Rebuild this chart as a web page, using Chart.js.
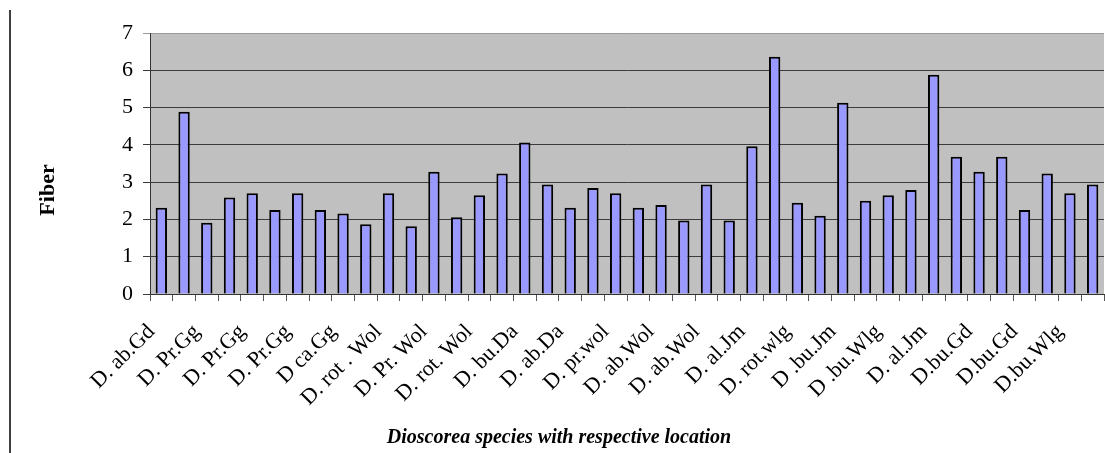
<!DOCTYPE html>
<html>
<head>
<meta charset="utf-8">
<script src="https://cdn.jsdelivr.net/npm/chart.js@4"></script>
<style>
  html, body { margin: 0; padding: 0; background: #fff; }
  #wrap { width: 1105px; height: 453px; position: relative; }
</style>
</head>
<body>
<div id="wrap"><canvas id="myChart"></canvas></div>
<script>
// species / location labels, one under every second bar
var tickLabels = [
  'D. ab.Gd', 'D. Pr.Gg', 'D. Pr.Gg', 'D. Pr.Gg', 'D ca.Gg', 'D. rot . Wol',
  'D. Pr. Wol', 'D. rot. Wol', 'D. bu.Da', 'D. ab.Da', 'D. pr.wol', 'D. ab.Wol',
  'D. ab.Wol', 'D. al.Jm', 'D. rot.wlg', 'D .bu.Jm', 'D .bu.Wlg', 'D. al.Jm',
  'D.bu.Gd', 'D.bu.Gd', 'D.bu.Wlg'
];

// fiber content per sample
var fiber = [
  2.31, 4.89, 1.91, 2.59, 2.70, 2.25, 2.70, 2.25, 2.16, 1.87, 2.70, 1.82, 3.28,
  2.06, 2.65, 3.23, 4.06, 2.94, 2.31, 2.84, 2.70, 2.31, 2.39, 1.97, 2.94, 1.97,
  3.96, 6.36, 2.45, 2.10, 5.13, 2.50, 2.65, 2.79, 5.88, 3.68, 3.28, 3.68, 2.25,
  3.23, 2.70, 2.94
];

var yTicks = [0, 1, 2, 3, 4, 5, 6, 7];

var categories = fiber.map(function (v, i) {
  return i % 2 === 0 ? tickLabels[i / 2] : '';
});

// gray plot area, page rule on the left and both axis titles
var decorations = {
  id: 'decorations',
  beforeDraw: function (chart) {
    var c = chart.ctx, a = chart.chartArea;
    c.save();
    c.fillStyle = '#c0c0c0';
    c.fillRect(a.left, a.top, a.right - a.left, a.bottom - a.top);
    c.strokeStyle = '#000';
    c.lineWidth = 1.5;
    c.beginPath();
    c.moveTo(10, 10);
    c.lineTo(10, 453);
    c.stroke();
    c.restore();
  },
  afterDraw: function (chart) {
    var c = chart.ctx;
    c.save();
    c.fillStyle = '#000';
    c.textAlign = 'center';
    c.textBaseline = 'middle';
    c.font = 'bold 22px "Liberation Serif"';
    c.translate(48, 190);
    c.rotate(-Math.PI / 2);
    c.fillText('Fiber', 0, 0);
    c.restore();
    c.save();
    c.fillStyle = '#000';
    c.textAlign = 'center';
    c.textBaseline = 'middle';
    c.font = 'italic bold 20px "Liberation Serif"';
    c.fillText('Dioscorea species with respective location', 559, 438);
    c.restore();
  }
};

var ctx = document.getElementById('myChart').getContext('2d');

var myChart = new Chart(ctx, {
  type: 'bar',
  data: {
    labels: categories,
    datasets: [{
      label: 'Fiber',
      data: fiber,
      backgroundColor: '#9999ff',
      borderColor: '#000',
      borderWidth: 2,
      barPercentage: 0.5,
      categoryPercentage: 1
    }]
  },
  options: {
    responsive: true,
    maintainAspectRatio: false,
    animation: false,
    layout: { padding: { left: 20, top: 33, right: 1, bottom: 0 } },
    plugins: {
      legend: { display: false },
      tooltip: { enabled: false }
    },
    scales: {
      x: {
        afterFit: function (scale) {
          scale.height = 159;
          scale.paddingLeft = 0;
          scale.paddingRight = 0;
        },
        border: { color: '#333', width: 1 },
        grid: {
          offset: true,
          drawOnChartArea: false,
          drawTicks: true,
          tickLength: 7,
          color: '#555'
        },
        ticks: {
          autoSkip: false,
          minRotation: 45,
          maxRotation: 45,
          padding: 18,
          labelOffset: -10,
          color: '#000',
          font: { family: 'Liberation Serif', size: 22 }
        }
      },
      y: {
        min: 0,
        max: 7,
        afterFit: function (scale) { scale.width = 130; },
        afterBuildTicks: function (scale) {
          scale.ticks = yTicks.map(function (v) { return { value: v }; });
        },
        border: { color: '#333', width: 1 },
        grid: {
          color: function (c) { return c.tick && c.tick.value === 7 ? '#9a9a9a' : '#3c3c3c'; },
          lineWidth: 1,
          tickLength: 7
        },
        ticks: {
          padding: 10,
          color: '#000',
          font: { family: 'Liberation Serif', size: 22 }
        }
      }
    }
  },
  plugins: [decorations]
});
</script>
</body>
</html>
